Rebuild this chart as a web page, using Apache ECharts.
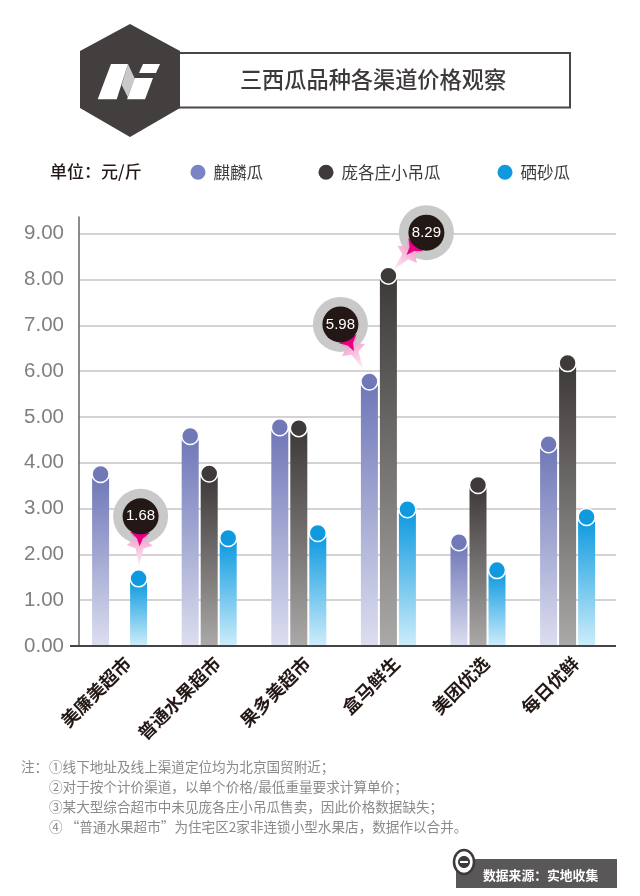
<!DOCTYPE html>
<html>
<head>
<meta charset="utf-8">
<style>html,body{margin:0;padding:0;background:#fff}#main{width:640px;height:896px}</style>
<script src="https://cdn.jsdelivr.net/npm/echarts@6/dist/echarts.min.js"></script>
</head>
<body>
<div id="main"></div>
<script>
const titleText = "三西瓜品种各渠道价格观察";
const unitText = "单位：元/斤";
const categories = ["美廉美超市","普通水果超市","果多美超市","盒马鲜生","美团优选","每日优鲜"];
const qilin = [3.96, 4.79, 4.98, 5.98, 2.47, 4.61];
const pangge = [null, 3.97, 4.96, 8.29, 3.72, 6.38];
const xisha = [1.68, 2.56, 2.67, 3.19, 1.86, 3.02];
const notes = [
    "①线下地址及线上渠道定位均为北京国贸附近；",
    "②对于按个计价渠道，以单个价格/最低重量要求计算单价；",
    "③某大型综合超市中未见庞各庄小吊瓜售卖，因此价格数据缺失；",
    "④ “普通水果超市”为住宅区2家非连锁小型水果店，数据作以合并。"
];
const sourceText = "数据来源：实地收集";

const cjk = "'Noto Sans CJK SC'";
const yMax = 9.367;  // 轴线比9.00再高出一截

// 柱子：圆点顶端对准数值，柱身从圆点中部开始
function makeRender(color, pale, shift, callouts){
    return function(params, api){
        let v = api.value(1);
        if(v == null || isNaN(v)) return;
        let pos = api.coord([api.value(0), v]);
        let base = api.coord([api.value(0), 0]);
        let x = pos[0] + shift;
        let cy = pos[1] + 9.3;
        let children = [
            {
                type:"rect",
                shape:{x:x - 8.5, y:cy + 3, width:17, height:base[1] - cy - 3},
                style:{fill:{type:"linear",x:0,y:0,x2:0,y2:1,colorStops:[
                    {offset:0,color:color},
                    {offset:1,color:pale}
                ]}}
            },
            {
                type:"circle",
                shape:{cx:x, cy:cy, r:8.5},
                style:{fill:color, stroke:"#fff", lineWidth:1.5}
            }
        ];
        let c = callouts && callouts[params.dataIndex];
        if(c){
            let ox = x + c[0], oy = cy + c[1];
            let a = Math.atan2(cy - oy, x - ox) - Math.PI / 2;
            children.push(
                {type:"circle", shape:{cx:ox, cy:oy, r:27.5}, style:{fill:"#c9c9c9"}},
                {
                    // 指针，局部坐标里朝下，再整体转向圆点
                    type:"group",
                    x:ox,
                    y:oy,
                    rotation:-a,
                    children:[
                        {
                            type:"polygon",
                            shape:{points:[[-9,19],[9,19],[5,23],[13,29],[4,32],[0,50],[-4,32],[-13,29],[-5,23]]},
                            style:{fill:{type:"linear",x:0,y:0,x2:0,y2:1,colorStops:[
                                {offset:0,color:"#f29ccb"},
                                {offset:0.5,color:"#f9c8e2"},
                                {offset:1,color:"#fdeef6"}
                            ]}}
                        },
                        {
                            type:"polygon",
                            shape:{points:[[-10,16],[10,16],[3,22],[0,30],[-3,22]]},
                            style:{fill:"#e4007f"}
                        }
                    ]
                },
                {type:"circle", shape:{cx:ox, cy:oy, r:18}, style:{fill:"#231815"}},
                {
                    type:"text",
                    style:{x:ox, y:oy, text:v.toFixed(2), fill:"#fff", font:"15px 'Liberation Sans'", textAlign:"center", textVerticalAlign:"middle"}
                }
            );
        }
        return {type:"group", children:children};
    };
}

function barSeries(name, values, color, pale, shift, callouts){
    return {
        name:name,
        type:"custom",
        xAxisIndex:1,
        yAxisIndex:1,
        color:color,
        clip:false,
        encode:{x:0, y:1},
        data:values.map((v, i) => [i, v]),
        renderItem:makeRender(color, pale, shift, callouts)
    };
}

function legendOne(name, color, left){
    return {
        left:left,
        top:159,
        icon:"circle",
        itemWidth:15,
        itemHeight:15,
        textStyle:{fontFamily:cjk, fontSize:16.5, color:"#3e3a39", padding:[0,0,0,3]},
        data:[{name:name, itemStyle:{color:color}}]
    };
}

var myChart = echarts.init(document.getElementById('main'));
myChart.setOption({
    animation:false,
    backgroundColor:"#fff",
    legend:[
        legendOne("麒麟瓜", "#7a84c4", 185.5),
        legendOne("庞各庄小吊瓜", "#3e3a39", 313.5),
        legendOne("硒砂瓜", "#0f9ae0", 492.5)
    ],
    // 第一个grid画y轴和网格线，第二个放柱子，第三个只放类目文字（三者位置略有错开）
    grid:[
        {left:79, top:217, width:537, height:429},
        {left:74.8, top:217, width:537.6, height:429},
        {left:82.8, top:217, width:537.6, height:429}
    ],
    xAxis:[
        {
            gridIndex:0,
            type:"category",
            data:categories,
            axisLine:{show:false},
            axisTick:{show:false},
            axisLabel:{show:false}
        },
        {
            gridIndex:1,
            type:"category",
            data:categories,
            axisLine:{show:false},
            axisTick:{show:false},
            axisLabel:{show:false}
        },
        {
            gridIndex:2,
            type:"category",
            data:categories,
            axisLine:{show:false},
            axisTick:{show:false},
            axisLabel:{
                interval:0,
                rotate:45,
                margin:14,
                fontFamily:cjk,
                fontSize:18,
                fontWeight:"bold",
                color:"#231815"
            }
        }
    ],
    yAxis:[
        {
            gridIndex:0,
            type:"value",
            min:0,
            max:yMax,
            interval:1,
            axisLine:{show:true, lineStyle:{color:"#666", width:1.5}},
            axisTick:{show:false},
            axisLabel:{
                showMaxLabel:false,
                margin:15,
                fontFamily:"'Liberation Sans'",
                fontSize:20.5,
                color:"#7f7f7f",
                padding:[6,0,0,0],
                formatter:v => v.toFixed(2)
            },
            splitLine:{show:true, showMaxLine:false, lineStyle:{color:"#c4c4c4", width:1.5}}
        },
        {gridIndex:1, type:"value", min:0, max:yMax, interval:1, show:false},
        {gridIndex:2, type:"value", min:0, max:yMax, interval:1, show:false}
    ],
    series:[
        barSeries("麒麟瓜", qilin, "#7078b8", "#dcdeef", -19, {3:[-29,-57]}),
        barSeries("庞各庄小吊瓜", pangge, "#3e3a39", "#aaa9a8", 0, {3:[38,-43]}),
        barSeries("硒砂瓜", xisha, "#0f9ae0", "#cdedfa", 19, {0:[2,-62]})
    ],
    graphic:[
        // 标题框和六边形标志
        {type:"rect", shape:{x:170, y:53, width:400, height:54.5}, style:{fill:"#fff", stroke:"#4a4646", lineWidth:2}},
        {type:"polygon", shape:{points:[[130,24],[180,51],[180,108],[130,137],[80,108],[80,51]]}, style:{fill:"#423f3e"}},
        {type:"polygon", shape:{points:[[128,64],[135,79],[127.7,97],[121.7,85]]}, style:{fill:"#c9c9c9"}},
        {type:"polygon", shape:{points:[[97.7,99.3],[111,64],[128,64],[116.7,99.3]]}, style:{fill:"#fff"}},
        {type:"polygon", shape:{points:[[135,78],[153,78],[145,99.3],[127,99.3]]}, style:{fill:"#fff"}},
        {type:"polygon", shape:{points:[[143,64],[160,64],[156,73],[139,73]]}, style:{fill:"#fff"}},
        {type:"text", x:373, y:80, style:{text:titleText, fill:"#3e3a39", font:"500 22.2px "+cjk, textAlign:"center", textVerticalAlign:"middle"}},
        {type:"text", x:50, y:172, style:{text:unitText, fill:"#231815", font:"500 17px "+cjk, textVerticalAlign:"middle"}},
        // x轴线比网格长一点，压在柱子上面
        {type:"line", z:10, shape:{x1:70, y1:646, x2:616, y2:646}, style:{stroke:"#444", lineWidth:2}},
        // 注释
        {type:"text", x:21, y:767, style:{text:"注：", fill:"#8a8a8a", font:"13.6px "+cjk, textVerticalAlign:"middle"}}
    ].concat(notes.map((line, i) => ({
        type:"text", x:49, y:767 + i * 20,
        style:{text:line, fill:"#8a8a8a", font:"13.6px "+cjk, textVerticalAlign:"middle"}
    }))).concat([
        // 数据来源
        {type:"rect", shape:{x:456, y:859, width:161, height:29}, style:{fill:"#595757"}},
        {type:"ellipse", shape:{cx:464, cy:862, rx:10, ry:12}, style:{fill:"#fff", stroke:"#3e3a39", lineWidth:2.5}},
        {type:"ellipse", shape:{cx:464, cy:862, rx:6, ry:6}, style:{fill:"#3e3a39"}},
        {type:"rect", shape:{x:460, y:861, width:8, height:2}, style:{fill:"#fff"}},
        {type:"text", x:483, y:875, style:{text:sourceText, fill:"#fff", font:"bold 12.8px "+cjk, textVerticalAlign:"middle"}}
    ])
});
</script>
</body>
</html>
